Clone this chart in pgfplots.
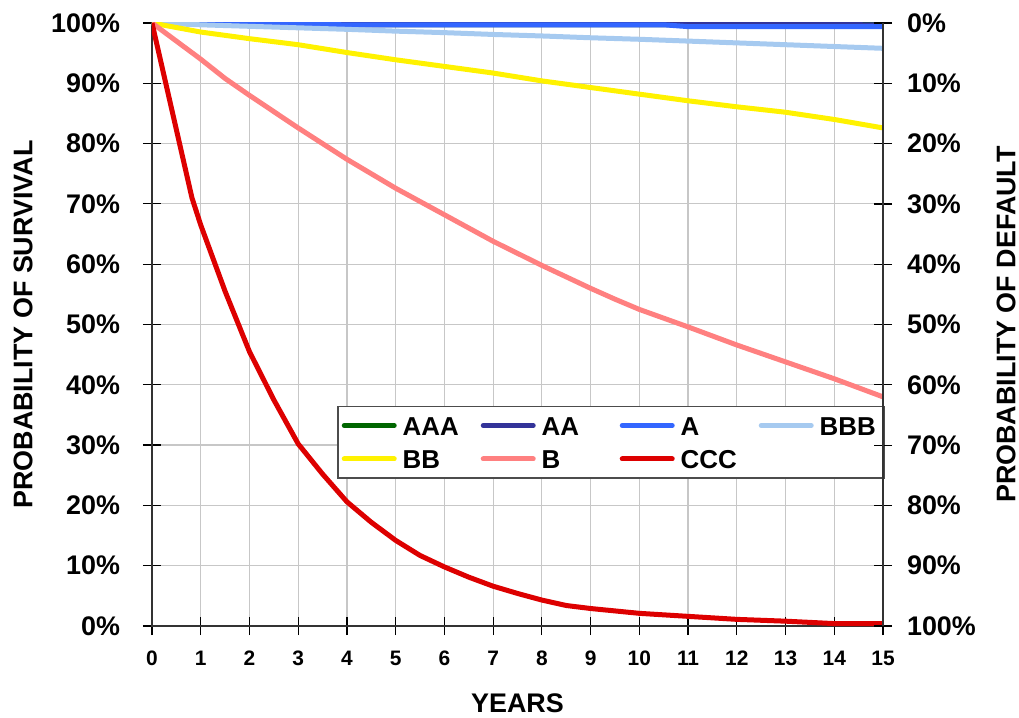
\documentclass[border=0pt]{standalone}
\usepackage{pgfplots}
\pgfplotsset{compat=1.18}
\usepackage{fontspec}
\setmainfont{Liberation Sans}
\definecolor{cAAA}{RGB}{0,102,0}
\definecolor{cAA}{RGB}{51,51,153}
\definecolor{cA}{RGB}{51,102,255}
\definecolor{cBBB}{RGB}{166,202,240}
\definecolor{cBB}{RGB}{255,242,0}
\definecolor{cB}{RGB}{255,128,128}
\definecolor{cCCC}{RGB}{221,0,0}
\begin{document}
\begin{tikzpicture}
\begin{axis}[name=ax,
  scale only axis, width=365.5bp, height=301.5bp,
  clip mode=individual,
  xmin=0, xmax=15, ymin=0, ymax=100,
  xtick={0,1,...,15}, ytick={0,10,...,100},
  xtick pos=left, ytick pos=left,
  /pgf/number format/assume math mode=true,
  yticklabel={\pgfmathprintnumber{\tick}\%},
  grid=major, major grid style={black!22, line width=0.6bp},
  axis line style={line width=0.8bp, black!80},
  tick align=center, major tick length=9bp,
  tick style={black, line width=0.6bp},
  y tick label style={font=\fontsize{13.5}{16}\selectfont\bfseries, xshift=-8bp},
  x tick label style={font=\fontsize{10.5}{12}\selectfont\bfseries, yshift=-4.5bp},
  legend columns=4,
  legend style={at={(axis description cs:0.253,0.244)}, anchor=south west,
    draw=black!70, line width=0.8bp, inner xsep=2bp, inner ysep=4.8bp,
    font=\fontsize{13}{15}\selectfont\bfseries, row sep=7.2bp,
    nodes={inner sep=0pt, text height=9.5bp, text depth=0bp},
    /tikz/every odd column/.append style={column sep=3bp}},
  legend image code/.code={\draw[#1, line width=2.5bp, line cap=round] (0bp,0bp) -- (25bp,0bp);},
  every axis plot/.append style={line width=2.5bp},
]
\addplot[cAAA] coordinates {(0,100)(4,99.72)(14.5,99.72)(15,99.65)};
\addlegendentry{\makebox[39bp][l]{AAA}}
\addplot[cAA] coordinates {(0,100)(4,99.72)(14.5,99.72)(15,99.65)};
\addlegendentry{\makebox[39bp][l]{AA}}
\addplot[cA] coordinates {(0,100)(2,99.85)(4,99.7)(10.5,99.7)(11,99.4)(15,99.4)};
\addlegendentry{\makebox[39bp][l]{A}}
\addplot[cBBB] coordinates {(0,100)(1,99.7)(2,99.45)(3,99.2)(4,98.95)(5,98.65)(6,98.4)(7,98.1)(8,97.85)(9,97.55)(10,97.3)(11,97.0)(12,96.7)(13,96.4)(14,96.1)(15,95.8)};
\addlegendentry{\makebox[30bp][l]{BBB}}
\addplot[cBB] coordinates {(0,100)(1,98.5)(2,97.4)(3,96.4)(4,95.1)(5,93.9)(6,92.8)(7,91.7)(8,90.4)(9,89.3)(10,88.2)(11,87.1)(12,86.1)(13,85.2)(14,84.0)(15,82.6)};
\addlegendentry{\makebox[39bp][l]{BB}}
\addplot[cB] coordinates {(0,100)(1,94)(1.5,90.8)(2,88)(3,82.6)(4,77.4)(5,72.6)(6,68.2)(7,63.8)(8,59.8)(9,56)(9.5,54.2)(10,52.5)(11,49.6)(12,46.6)(13,43.8)(14,41)(15,38)};
\addlegendentry{\makebox[39bp][l]{B}}
\addplot[cCCC] coordinates {(0,100)(0.82,71)(1,66.5)(1.5,55.5)(2,45.5)(2.5,37.5)(3,30.2)(3.5,25.2)(4,20.6)(4.5,17.2)(5,14.2)(5.5,11.7)(6,9.8)(6.5,8.1)(7,6.6)(7.5,5.4)(8,4.3)(8.5,3.4)(9,2.9)(9.5,2.5)(10,2.1)(11,1.6)(12,1.1)(13,0.8)(14,0.4)(15,0.4)};
\addlegendentry{\makebox[39bp][l]{CCC}}
\end{axis}
\begin{axis}[
  scale only axis, width=365.5bp, height=301.5bp,
  xmin=0, xmax=15, ymin=0, ymax=100, y dir=reverse,
  axis x line=none, axis y line*=right,
  ytick={0,10,...,100},
  /pgf/number format/assume math mode=true,
  yticklabel={\pgfmathprintnumber{\tick}\%},
  axis line style={line width=0.8bp, black!80},
  tick align=center, major tick length=9bp,
  tick style={black, line width=0.6bp},
  y tick label style={font=\fontsize{13.5}{16}\selectfont\bfseries, xshift=4bp},
]
\addplot[draw=none] coordinates {(0,0)(15,100)};
\end{axis}
\path (ax.south west) ++(-64.5bp,150.75bp) node[rotate=90, font=\fontsize{13.5}{16}\selectfont\bfseries] {PROBABILITY OF SURVIVAL};
\path (ax.south west) ++(427bp,150.75bp) node[rotate=90, font=\fontsize{13.5}{16}\selectfont\bfseries] {PROBABILITY OF DEFAULT};
\path (ax.south west) ++(182.75bp,-38.5bp) node[font=\fontsize{13.5}{16}\selectfont\bfseries] {YEARS};
\pgfresetboundingbox
\path (ax.south west) ++(-76bp,-46bp) rectangle ++(509.5bp,359bp);
\end{tikzpicture}
\end{document}
